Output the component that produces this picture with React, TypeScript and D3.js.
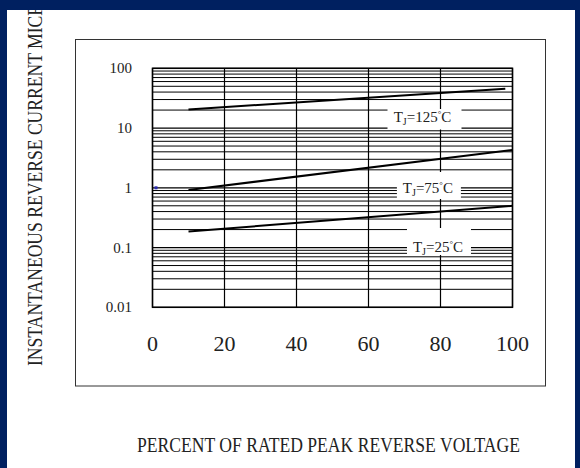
import React from "react";
import * as d3 from "d3";

// axis ticks
const xTicks = [0, 20, 40, 60, 80, 100];
const yTicks = [100, 10, 1, 0.1, 0.01];
const yTickLabels = ["100", "10", "1", "0.1", "0.01"];

// reverse current (µA) vs percent of rated voltage
const tj125 = [[10, 20.5], [98, 45.5]];
const tj75 = [[10, 0.92], [100, 4.3]];
const tj25 = [[10, 0.185], [100, 0.5]];

const curveLabels = ["125", "75", "25"];
// where each label sits (x in %, y in µA at text baseline)
const labelX = [75, 76.5, 79.3];
const labelY = [12.77, 0.828, 0.0852];

const W = 580;
const H = 468;
const FONT = "'Liberation Serif', 'Times New Roman', serif";

export default function App() {
  const x = d3.scaleLinear().domain([0, 100]).range([152.5, 512.5]);
  const y = d3.scaleLog().domain([0.01, 100]).range([307.3, 68.3]);

  // minor grid: 1..9 x 10^n
  const gridVals: number[] = [];
  for (let e = -2; e < 2; e++) {
    for (let k = 2; k <= 9; k++) gridVals.push(k * Math.pow(10, e));
  }

  const line = d3
    .line<number[]>()
    .x((d) => x(d[0]))
    .y((d) => y(d[1]));

  const series = [tj125, tj75, tj25];

  // label box sizes: [width, above baseline, below baseline]
  const boxes = [
    [74, 12.7, 7.8],
    [64, 20.7, 6.3],
    [64, 23.7, 3.3],
  ];
  const boxShift = [2, 1, 1];

  return (
    <svg
      width={W}
      height={H}
      style={{ position: "absolute", left: 0, top: 0, background: "#fff" }}
      fontFamily={FONT}
    >
      <rect x={0} y={0} width={W} height={H} fill="#fff" />

      {/* outer frame */}
      <rect x={75.5} y={39.5} width={470} height={346.5} fill="none" stroke="#333" strokeWidth={1} />

      {/* horizontal grid */}
      {gridVals.map((v, i) => (
        <line key={"h" + i} x1={x(0)} x2={x(100)} y1={y(v)} y2={y(v)} stroke="#000" strokeWidth={1} />
      ))}
      {yTicks.map((v, i) => (
        <line key={"d" + i} x1={x(0)} x2={x(100)} y1={y(v)} y2={y(v)} stroke="#000" strokeWidth={1.2} />
      ))}
      {/* vertical grid */}
      {xTicks.map((v, i) => (
        <line key={"v" + i} x1={x(v)} x2={x(v)} y1={y(100)} y2={y(0.01)} stroke="#000" strokeWidth={1.2} />
      ))}
      <rect x={x(0)} y={y(100)} width={x(100) - x(0)} height={y(0.01) - y(100)} fill="none" stroke="#000" strokeWidth={1.5} />

      {/* label boxes knock out the grid */}
      {curveLabels.map((t, i) => (
        <rect
          key={"b" + i}
          x={x(labelX[i]) + boxShift[i] - boxes[i][0] / 2}
          y={y(labelY[i]) - boxes[i][1]}
          width={boxes[i][0]}
          height={boxes[i][1] + boxes[i][2]}
          fill="#fff"
        />
      ))}

      {/* curves */}
      {series.map((s, i) => (
        <path key={"s" + i} d={line(s) || ""} fill="none" stroke="#000" strokeWidth={2} />
      ))}

      {/* curve labels */}
      {curveLabels.map((t, i) => (
        <text key={"l" + i} x={x(labelX[i])} y={y(labelY[i])} textAnchor="middle" fontSize={15} fill="#222">
          T
          <tspan fontSize={10} dy={3}>J</tspan>
          <tspan dy={-3}>={t}</tspan>
          <tspan fontSize={9} dy={-5}>°</tspan>
          <tspan dy={5}>C</tspan>
        </text>
      ))}

      {/* small stray mark */}
      <rect x={x(0) + 2} y={y(1) - 1.5} width={3} height={3} fill="#2a2ab0" />

      {/* y tick labels */}
      {yTicks.map((v, i) => (
        <text key={"yt" + i} x={132} y={y(v) + 5} textAnchor="end" fontSize={15} fill="#222">
          {yTickLabels[i]}
        </text>
      ))}

      {/* x tick labels */}
      {xTicks.map((v, i) => (
        <text key={"xt" + i} x={x(v)} y={351} textAnchor="middle" fontSize={22} fill="#222">
          {v}
        </text>
      ))}

      {/* axis titles */}
      <text x={137} y={452} fontSize={20} fill="#222" textLength={383} lengthAdjust="spacingAndGlyphs">
        PERCENT OF RATED PEAK REVERSE VOLTAGE
      </text>
      <text
        transform="translate(42,366) rotate(-90)"
        fontSize={21}
        fill="#222"
        textLength={456}
        lengthAdjust="spacingAndGlyphs"
      >
        INSTANTANEOUS REVERSE CURRENT MICROAMPERES
      </text>

      {/* navy page border */}
      <rect x={0} y={0} width={W} height={10} fill="#002060" />
      <rect x={0} y={0} width={7} height={H} fill="#002060" />
      <rect x={575} y={0} width={5} height={H} fill="#002060" />
    </svg>
  );
}
